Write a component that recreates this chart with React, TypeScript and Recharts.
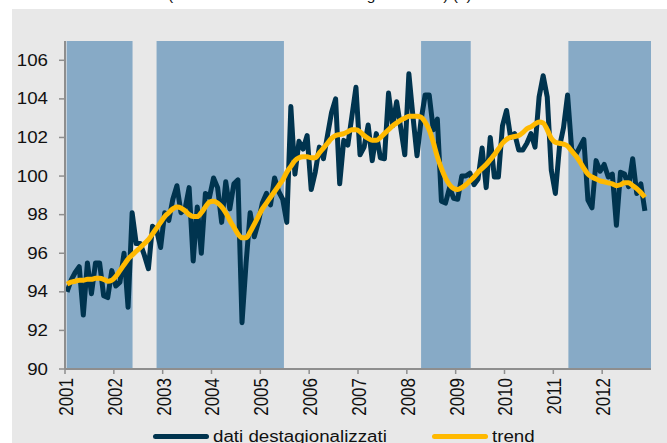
import React from 'react';
import { LineChart, Line, XAxis, YAxis, ReferenceArea } from 'recharts';

// Monthly series, Jan 2001 - Nov 2012
const YEARS = [2001, 2002, 2003, 2004, 2005, 2006, 2007, 2008, 2009, 2010, 2011, 2012];

const DATI = [
  94.0, 94.6, 95.0, 95.3, 92.8, 95.5, 93.9, 95.5, 95.5, 93.8, 93.7, 95.1,
  94.3, 94.5, 96.0, 93.2, 98.1, 96.5, 96.5, 95.9, 95.2, 97.4, 97.2, 96.3,
  98.1, 97.7, 98.8, 99.5, 98.1, 98.3, 99.4, 95.6, 98.4, 96.0, 99.1, 98.9,
  99.9, 99.4, 97.6, 99.7, 98.3, 99.6, 99.8, 92.4, 95.5, 98.1, 96.85, 97.6,
  98.6, 99.1, 98.5, 99.9, 99.2, 98.8, 97.6, 103.6, 100.1, 101.8, 101.4, 102.1,
  99.3, 100.2, 101.5, 100.9, 102.1, 103.3, 104.0, 99.6, 101.85, 101.6, 103.1, 104.6,
  101.1, 101.5, 102.65, 100.8, 102.2, 100.95, 100.9, 104.3, 102.6, 103.85, 102.5, 101.1,
  105.3, 103.1, 101.05, 102.9, 104.2, 104.2, 102.4, 102.95, 98.7, 98.6, 99.4, 98.85,
  98.8, 100.0, 100.0, 100.15, 99.55, 99.85, 101.45, 99.4, 102.0, 99.95, 99.95, 102.6,
  103.4, 102.0, 102.2, 101.35, 101.35, 101.7, 102.2, 101.5, 104.1, 105.2, 104.1, 100.3,
  99.1, 101.5, 102.5, 104.2, 101.4, 101.1, 101.5, 101.9, 98.75, 98.35, 100.8, 100.25,
  100.6, 99.95, 100.1, 97.45, 100.2, 100.1, 99.45, 100.9, 99.1, 99.6, 98.2,
];

const TREND = [
  94.4, 94.5, 94.55, 94.6, 94.6, 94.65, 94.65, 94.7, 94.7, 94.65, 94.55, 94.6,
  94.8, 95.1, 95.4, 95.7, 95.9, 96.1, 96.3, 96.5, 96.7, 97.0, 97.3, 97.6,
  97.9, 98.1, 98.3, 98.4, 98.35, 98.2, 98.0, 97.9, 97.9, 98.1, 98.4, 98.65,
  98.7, 98.6, 98.4, 98.1, 97.7, 97.35, 97.0, 96.8, 96.8, 97.1, 97.5, 97.9,
  98.3, 98.6, 98.9, 99.2, 99.5, 99.8, 100.2, 100.5, 100.8, 100.95, 101.0, 101.0,
  100.95, 100.95, 101.2, 101.45, 101.7, 101.95, 102.1, 102.15, 102.2, 102.3, 102.4, 102.4,
  102.3, 102.1, 101.95, 101.85, 101.85, 102.0, 102.2, 102.4, 102.6, 102.75, 102.9, 103.0,
  103.1, 103.1, 103.1, 103.05, 102.8, 102.4, 101.75, 101.0, 100.4, 99.9, 99.55, 99.35,
  99.3, 99.4, 99.55, 99.75, 99.95, 100.2, 100.4, 100.6, 100.85, 101.1, 101.4, 101.7,
  101.9, 102.0, 102.05, 102.1, 102.25, 102.45, 102.55, 102.7, 102.8, 102.75, 102.4, 101.95,
  101.75, 101.7, 101.65, 101.55, 101.3, 101.05, 100.75, 100.4, 100.1, 99.95, 99.85, 99.75,
  99.7, 99.65, 99.6, 99.5, 99.55, 99.65, 99.65, 99.5, 99.35, 99.15, 98.9,
];

// shaded periods, in months from Jan 2001
const SHADED_FROM = [0.4, 22.5, 87.5, 123.7];
const SHADED_TO = [16.6, 53.8, 99.7, 144];

const Y_TICKS = [90, 92, 94, 96, 98, 100, 102, 104, 106];
const X_TICKS = YEARS.map((_, i) => i * 12);

const SERIES_NAMES = ['dati destagionalizzati', 'trend'];

const DARK = '#00344F';
const GOLD = '#FFB900';
const SHADE = '#87AAC6';
const AXIS = '#8E8E8E';
const FONT = '"Liberation Sans", Arial, sans-serif';
const SX = 1.17; // the original is a bit stretched horizontally

const data = DATI.map((v, i) => ({ t: i + 0.5, dati: v, trend: TREND[i] }));

function YTick({ x, y, payload }: any) {
  return (
    <g transform={`translate(${x},${y}) scale(${SX},1)`}>
      <text x={0} y={0} textAnchor="end" dominantBaseline="central" fontSize={16} fill="#111" fontFamily={FONT}>
        {payload.value}
      </text>
    </g>
  );
}

function XTick({ x, y, payload }: any) {
  return (
    <g transform={`translate(${x + 1},${y}) scale(${SX},1) rotate(-90)`}>
      <text x={0} y={0} textAnchor="end" dominantBaseline="central" fontSize={17} fill="#111" fontFamily={FONT}>
        {YEARS[0] + payload.value / 12}
      </text>
    </g>
  );
}

export default function App() {
  return (
    <div style={{ position: 'absolute', left: 0, top: 0, width: 667, height: 443, overflow: 'hidden', background: '#fff', fontFamily: FONT }}>
      {/* title, mostly cut off at the top */}
      <div style={{ position: 'absolute', left: 168, top: -13.5, fontSize: 15.5, lineHeight: '16px', whiteSpace: 'nowrap', color: '#111' }}>
        (indici 2005=100 e dati destagionalizzati) (a)
      </div>
      <div style={{ position: 'absolute', left: 12, top: 9, width: 655, height: 440, background: '#E8E8E8' }} />

      <div style={{ position: 'absolute', left: 0, top: 0 }}>
        <LineChart width={667} height={443} data={data} margin={{ top: 41, right: 16, bottom: 14, left: 15 }}>
          {SHADED_FROM.map((from, i) => (
            <ReferenceArea key={i} x1={from} x2={SHADED_TO[i]} y1={90} y2={107} fill={SHADE} fillOpacity={1} stroke="none" />
          ))}
          <XAxis
            type="number"
            dataKey="t"
            domain={[0, 144]}
            ticks={X_TICKS}
            interval={0}
            height={60}
            tickSize={5}
            tickMargin={4}
            axisLine={{ stroke: AXIS, strokeWidth: 2 }}
            tickLine={{ stroke: AXIS, strokeWidth: 1.5 }}
            tick={<XTick />}
          />
          <YAxis
            type="number"
            domain={[90, 107]}
            ticks={Y_TICKS}
            interval={0}
            width={50}
            tickSize={6}
            tickMargin={11}
            axisLine={{ stroke: AXIS, strokeWidth: 2 }}
            tickLine={{ stroke: AXIS, strokeWidth: 1.5 }}
            tick={<YTick />}
          />
          <Line type="linear" dataKey="dati" name={SERIES_NAMES[0]} stroke={DARK} strokeWidth={5} strokeLinejoin="round" dot={false} isAnimationActive={false} />
          <Line type="monotone" dataKey="trend" name={SERIES_NAMES[1]} stroke={GOLD} strokeWidth={5} dot={false} isAnimationActive={false} />
        </LineChart>
      </div>

      {/* legend */}
      {[DARK, GOLD].map((c, i) => (
        <div key={i} style={{ position: 'absolute', left: i === 0 ? 153 : 432, top: 428, height: 17, display: 'flex', alignItems: 'center' }}>
          <span style={{ display: 'inline-block', width: 56, height: 5, borderRadius: 3, background: c }} />
          <span style={{ marginLeft: 4, fontSize: 16, lineHeight: '17px', color: '#111', transform: `scaleX(${SX})`, transformOrigin: 'left center', whiteSpace: 'nowrap' }}>
            {SERIES_NAMES[i]}
          </span>
        </div>
      ))}
    </div>
  );
}
